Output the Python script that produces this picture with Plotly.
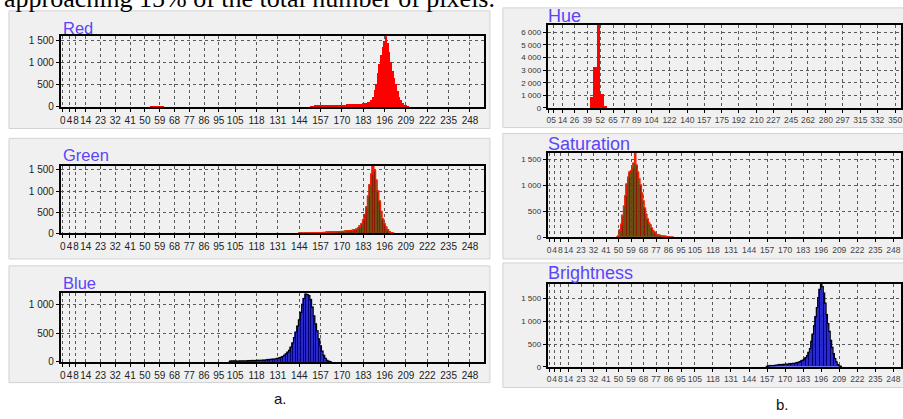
import plotly.graph_objects as go

W, H = 903, 419

# ---------------- data ----------------
rgb_tick_vals = [0, 4, 8, 14, 23, 32, 41, 50, 59, 68, 77, 86, 95, 105, 118, 131,
                 144, 157, 170, 183, 196, 209, 222, 235, 248]
hue_tick_vals = [0, 5, 14, 26, 39, 52, 65, 77, 89, 104, 122, 140, 157, 175, 192,
                 210, 227, 245, 262, 280, 297, 315, 332, 350]

red_start = 151
red_counts = [10, 12, 14, 15, 16, 18, 20, 20, 22, 24,
              25, 27, 28, 30, 32, 34, 36, 38, 40, 42,
              44, 45, 48, 50, 52, 55, 58, 60, 62, 65,
              68, 70, 75, 80, 90, 100, 115,
              160, 220, 380, 510, 750, 960, 1150, 1330, 1480, 1580,
              1420, 1215, 1000, 810, 650, 515, 360, 220, 140, 75, 40, 15, 5]
red_low_start = 54
red_low_counts = [8, 10, 12, 12, 12, 10, 10, 8]

green_start = 144
green_counts = [8, 10, 10, 12, 12, 14, 15, 16,
                17, 18, 19, 20, 21, 22, 23, 25, 27, 28,
                30, 32, 34, 36, 38, 40, 42, 45, 48, 50,
                55, 60, 65, 70, 75, 80, 90, 100,
                130, 170, 230, 320, 450, 620, 880, 1150, 1400, 1590,
                1480, 1260, 1000, 760, 520, 340, 220, 150, 90, 45, 20, 8]
green_low_start = 64
green_low_counts = [8, 10, 10, 10, 8, 6]

blue_start = 102
blue_counts = [15, 18, 20, 18, 16, 15, 18, 20, 18,
               18, 20, 22, 20, 22, 24, 25, 26, 28, 30,
               30, 32, 34, 36, 38, 40, 44, 48, 52, 56,
               62, 70, 80, 95,
               113, 140, 170, 200, 260, 330, 420, 520, 620, 730, 860, 1000, 1100, 1180,
               1170, 1150, 1080, 950, 800, 660, 540, 400, 280, 190, 115, 65, 30, 12, 4]

hue_bins = [43, 46.5, 50, 53.5, 57]
hue_counts = [930, 3250, 6600, 1150, 180]

sat_start = 49
sat_counts = [5, 30, 140, 250, 420, 600, 800, 1020, 1150, 1250, 1280, 1330, 1420, 1610,
              1380, 1250, 1120, 1000, 850, 700, 560, 440, 350, 280, 240, 180, 130, 95,
              65, 50, 42, 36, 30, 26, 22, 18, 14, 11, 8, 5, 3]

bright_start = 157
bright_counts = [12, 20, 22, 25, 28, 30, 34, 38, 42, 45, 48, 52, 55, 58, 60, 62, 65, 68,
                 72, 76, 80, 88, 95, 105, 115, 130, 150, 175, 205, 250, 320, 400, 560,
                 720, 900, 1100, 1300, 1520, 1700, 1820, 1760, 1620, 1400, 1150, 950,
                 780, 580, 430, 290, 180, 110, 50, 25, 10]

top_text = "approaching 15% of the total number of pixels."

# ---------------- helpers ----------------
def fx(px):
    return px / W


def fy(py):
    return 1 - py / H


def fmt(v):
    return f"{v:,}".replace(",", " ")


fig = go.Figure()


def ax_name(i, kind):
    return kind if i == 1 else f"{kind}{i}"


def add_bars(i, xs, ys, fill, edge=None, edge_w=0, width=1.0, outline=None):
    fig.add_trace(go.Bar(
        x=xs, y=ys, width=width,
        marker=dict(color=fill, line=dict(color=edge or fill, width=edge_w)),
        xaxis=ax_name(i, "x"), yaxis=ax_name(i, "y"),
        showlegend=False, hoverinfo="skip"))
    if outline:
        ox = [xs[0] - 1] + list(xs) + [xs[-1] + 1]
        oy = [0] + list(ys) + [0]
        fig.add_trace(go.Scatter(
            x=ox, y=oy, mode="lines",
            line=dict(color=outline, width=1.2, shape="hvh"),
            xaxis=ax_name(i, "x"), yaxis=ax_name(i, "y"),
            showlegend=False, hoverinfo="skip"))


def rng(start, counts):
    return list(range(start, start + len(counts)))


# Red
add_bars(1, rng(red_low_start, red_low_counts), red_low_counts, "#ff0000")
add_bars(1, rng(red_start, red_counts), red_counts, "#ff0000")
# Green
add_bars(2, rng(green_low_start, green_low_counts), green_low_counts, "#ff1a00")
add_bars(2, rng(green_start, green_counts), green_counts, "#8e1800", "#4e5a0c", 0.5, outline="#ff1a00")
# Blue
add_bars(3, rng(blue_start, blue_counts), blue_counts, "#00006e", "#2a2aff", 0.5, outline="#000000")
# Hue
add_bars(4, hue_bins, hue_counts, "#ff0000", width=3.5)
# Saturation
add_bars(5, rng(sat_start, sat_counts), sat_counts, "#8e1800", "#4e5a0c", 0.5, outline="#ff1a00")
# Brightness
add_bars(6, rng(bright_start, bright_counts), bright_counts, "#00006e", "#2a2aff", 0.5, outline="#000000")

# ---------------- layout ----------------
panels = [
    dict(i=1, px=(60, 484), py=(35, 107), xr=[-1.2, 256.5], yr=[0, 1585], xt=rgb_tick_vals,
         yt=[0, 500, 1000, 1500], title="Red", tpos=(60, 26.5), left=True),
    dict(i=2, px=(60, 484), py=(167, 236), xr=[-1.2, 256.5], yr=[0, 1595], xt=rgb_tick_vals,
         yt=[0, 500, 1000, 1500], title="Green", tpos=(60, 156), left=True),
    dict(i=3, px=(60, 484), py=(297, 367), xr=[-1.2, 256.5], yr=[0, 1190], xt=rgb_tick_vals,
         yt=[0, 500, 1000], title="Blue", tpos=(60, 286), left=True),
    dict(i=4, px=(548, 902), py=(23, 108), xr=[-1, 356], yr=[0, 6620], xt=hue_tick_vals,
         yt=[0, 1000, 2000, 3000, 4000, 5000, 6000], title="Hue", tpos=(546.7, 14), left=False),
    dict(i=5, px=(548, 902), py=(154, 240), xr=[-1, 253.5], yr=[0, 1615], xt=rgb_tick_vals,
         yt=[0, 500, 1000, 1500], title="Saturation", tpos=(546.7, 144.5), left=False),
    dict(i=6, px=(548, 902), py=(287, 372), xr=[-1, 253.5], yr=[0, 1830], xt=rgb_tick_vals,
         yt=[0, 500, 1000, 1500], title="Brightness", tpos=(546.7, 276), left=False),
]

boxes = [(8, 490, 9, 129), (8, 490, 139, 262), (8, 490, 269, 388),
         (503, 910, 6, 128), (503, 910, 134, 262), (503, 910, 266, 393)]

layout = dict(
    width=W, height=H, autosize=False,
    margin=dict(l=0, r=0, t=0, b=0, pad=0),
    paper_bgcolor="white", plot_bgcolor="#f0f0f0",
    bargap=0, barmode="overlay",
    font=dict(family="Liberation Sans", color="#222"),
    showlegend=False,
)

annotations = []
shapes = []
for (x0, x1, y0, y1) in boxes:
    shapes.append(dict(type="rect", xref="paper", yref="paper",
                       x0=fx(x0), x1=fx(x1), y0=fy(y1), y1=fy(y0),
                       fillcolor="#f0f0f0", line=dict(color="#d2d2d2", width=1),
                       layer="below"))

for p in panels:
    i = p["i"]
    xk = "xaxis" if i == 1 else f"xaxis{i}"
    yk = "yaxis" if i == 1 else f"yaxis{i}"
    tick_fs = 10 if p["left"] else 8
    xtick_fs = 10 if p["left"] else 8.5
    common = dict(showline=True, linecolor="black", linewidth=2, mirror=True,
                  showgrid=True, gridcolor="#5a5a5a", griddash="dot", gridwidth=1,
                  zeroline=False, ticks="outside", ticklen=3, tickcolor="black",
                  tickwidth=1, fixedrange=True)
    layout[xk] = dict(common, domain=[fx(p["px"][0]), fx(p["px"][1])],
                      range=p["xr"], anchor=ax_name(i, "y"),
                      tickmode="array", tickvals=p["xt"],
                      ticktext=[str(v) for v in p["xt"]],
                      tickfont=dict(size=xtick_fs, color="#222" if p["left"] else "#444"),
                      tickangle=0)
    layout[yk] = dict(common, domain=[fy(p["py"][1]), fy(p["py"][0])],
                      range=p["yr"], anchor=ax_name(i, "x"),
                      tickmode="array", tickvals=p["yt"],
                      ticktext=[fmt(v) for v in p["yt"]],
                      tickfont=dict(size=tick_fs, color="#222" if p["left"] else "#333"))
    tx, ty = p["tpos"]
    annotations.append(dict(text=p["title"], xref="paper", yref="paper",
                            x=fx(tx), y=fy(ty), xanchor="left", yanchor="middle",
                            showarrow=False,
                            font=dict(size=16.5 if p["left"] else 18, color="#5b45f7",
                                      family="Liberation Sans")))

annotations.append(dict(text=top_text, xref="paper", yref="paper", x=fx(1), y=fy(-3.8),
                        xanchor="left", yanchor="middle", showarrow=False,
                        font=dict(size=26, color="black", family="Liberation Serif")))
annotations.append(dict(text="a.", xref="paper", yref="paper", x=fx(280), y=fy(404),
                        xanchor="center", yanchor="middle", showarrow=False,
                        font=dict(size=15, color="#111", family="Liberation Sans")))
annotations.append(dict(text="b.", xref="paper", yref="paper", x=fx(783), y=fy(410),
                        xanchor="center", yanchor="middle", showarrow=False,
                        font=dict(size=15, color="#111", family="Liberation Sans")))

layout["annotations"] = annotations
layout["shapes"] = shapes
fig.update_layout(**layout)

fig.write_html("out.html", config={"displayModeBar": False},
               post_script="document.body.style.margin='0px';document.body.style.padding='0px';document.body.style.overflow='hidden';")
